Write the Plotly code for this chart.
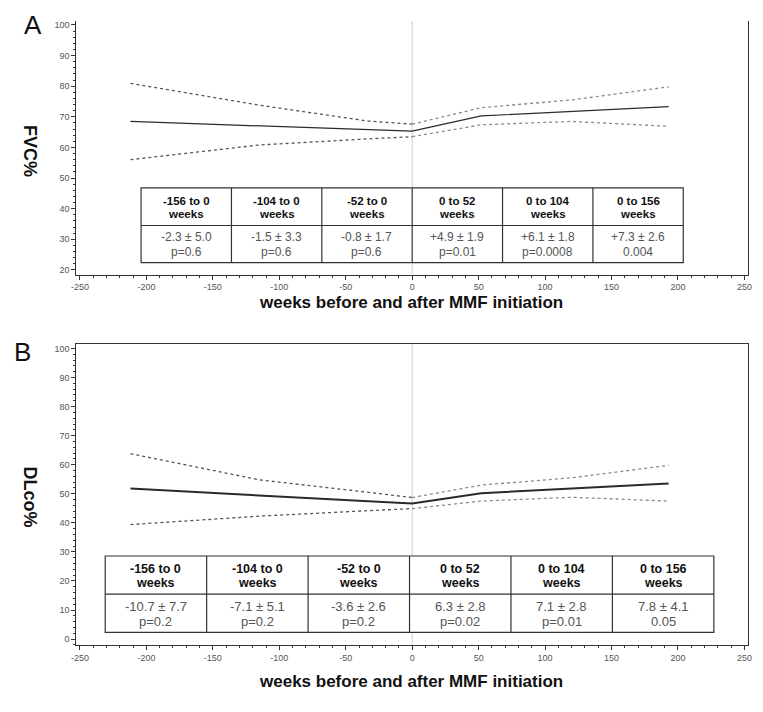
import plotly.graph_objects as go

# weeks before / after MMF initiation
weeks = [-212, -115, -33, 0, 52, 120, 193]

# FVC% (panel A)
fvc_mean = [68.5, 67.1, 65.8, 65.3, 70.3, 71.7, 73.3]
fvc_upper = [80.9, 73.8, 68.6, 67.6, 73.0, 75.5, 79.8]
fvc_lower = [56.0, 60.8, 62.8, 63.5, 67.4, 68.5, 66.9]

# DLco% (panel B)
dlco_mean = [51.8, 49.3, 47.4, 46.7, 50.2, 51.8, 53.5]
dlco_upper = [63.8, 54.8, 50.5, 48.7, 53.0, 55.5, 59.8]
dlco_lower = [39.4, 42.3, 44.2, 44.9, 47.5, 48.8, 47.5]

periods = ["-156 to 0", "-104 to 0", "-52 to 0", "0 to 52", "0 to 104", "0 to 156"]
fvc_change = ["-2.3 ± 5.0", "-1.5 ± 3.3", "-0.8 ± 1.7", "+4.9 ± 1.9", "+6.1 ± 1.8", "+7.3 ± 2.6"]
fvc_p = ["p=0.6", "p=0.6", "p=0.6", "p=0.01", "p=0.0008", "0.004"]
dlco_change = ["-10.7 ± 7.7", "-7.1 ± 5.1", "-3.6 ± 2.6", "6.3 ± 2.8", "7.1 ± 2.8", "7.8 ± 4.1"]
dlco_p = ["p=0.2", "p=0.2", "p=0.2", "p=0.02", "p=0.01", "0.05"]

x_ticks = [-250, -200, -150, -100, -50, 0, 50, 100, 150, 200, 250]

FONT = "Arial, Liberation Sans, sans-serif"

# the page body has an 8px margin, so the figure is drawn 8px in from the window edge
OFF = 8
W = 763 - OFF
H = 712 - OFF


def px_x(p):
    return (p - OFF) / W


def px_y(p):
    return 1 - (p - OFF) / H


fig = go.Figure()

split = weeks.index(0)


def add_panel(fig, mean, upper, lower, xa, ya, mean_w):
    fig.add_trace(go.Scatter(x=weeks, y=mean, mode="lines", xaxis=xa, yaxis=ya,
                             line=dict(color="#2a2a2a", width=mean_w), showlegend=False))
    for band in (upper, lower):
        # left half dashed, right half dotted
        fig.add_trace(go.Scatter(x=weeks[:split + 1], y=band[:split + 1], mode="lines",
                                 xaxis=xa, yaxis=ya, showlegend=False,
                                 line=dict(color="#555555", width=1.3, dash="3px,3px")))
        fig.add_trace(go.Scatter(x=weeks[split:], y=band[split:], mode="lines",
                                 xaxis=xa, yaxis=ya, showlegend=False,
                                 line=dict(color="#8a8a8a", width=1.3, dash="dot")))


add_panel(fig, fvc_mean, fvc_upper, fvc_lower, "x", "y", 1.2)
add_panel(fig, dlco_mean, dlco_upper, dlco_lower, "x2", "y2", 2)


def add_table(fig, xr, yr, x0, x1, y0, ymid, y1, change, pval, hsize, vsize):
    # y0 bottom, y1 top
    fig.add_shape(type="rect", xref=xr, yref=yr, x0=x0, x1=x1, y0=y0, y1=y1,
                  line=dict(color="#333333", width=1.2), fillcolor="white", layer="above")
    fig.add_shape(type="line", xref=xr, yref=yr, x0=x0, x1=x1, y0=ymid, y1=ymid,
                  line=dict(color="#333333", width=1.2), layer="above")
    w = (x1 - x0) / len(periods)
    for i in range(1, len(periods)):
        fig.add_shape(type="line", xref=xr, yref=yr, x0=x0 + i * w, x1=x0 + i * w,
                      y0=y0, y1=y1, line=dict(color="#333333", width=1.2), layer="above")
    h1 = y1 - ymid
    h2 = ymid - y0
    for i, per in enumerate(periods):
        cx = x0 + (i + 0.5) * w
        for txt, yy in ((per, y1 - 0.34 * h1), ("weeks", y1 - 0.70 * h1)):
            fig.add_annotation(x=cx, y=yy, xref=xr, yref=yr, text="<b>" + txt + "</b>",
                               showarrow=False, font=dict(family=FONT, size=hsize, color="#111111"))
        for txt, yy in ((change[i], ymid - 0.32 * h2), (pval[i], ymid - 0.72 * h2)):
            fig.add_annotation(x=cx, y=yy, xref=xr, yref=yr, text=txt,
                               showarrow=False, font=dict(family=FONT, size=vsize, color="#555555"))


add_table(fig, "x", "y", -204, 204, 22.4, 34.5, 46.8, fvc_change, fvc_p, 11.5, 12)
add_table(fig, "x2", "y2", -231, 227, 2.3, 15.5, 28.6, dlco_change, dlco_p, 12.5, 13)

# zero line
for xr, yr in (("x", "y domain"), ("x2", "y2 domain")):
    fig.add_shape(type="line", xref=xr, yref=yr, x0=0, x1=0, y0=0, y1=1,
                  line=dict(color="#cccccc", width=1), layer="below")

ax_common = dict(
    showgrid=False, zeroline=False, showline=True, linecolor="#333333", linewidth=1,
    ticks="outside", ticklen=4, tickcolor="#333333",
    tickfont=dict(family=FONT, size=9, color="#555555"),
)
xdom = [px_x(72), px_x(752)]

fig.update_layout(
    width=W, height=H,
    margin=dict(l=0, r=0, t=0, b=0),
    paper_bgcolor="white", plot_bgcolor="white",
    font=dict(family=FONT),
    xaxis=dict(domain=xdom, range=[-252.8, 252.8], anchor="y",
               tickvals=x_ticks, ticktext=[str(v) for v in x_ticks],
               minor=dict(dtick=10, ticks="outside", ticklen=2, tickcolor="#333333"),
               **ax_common),
    yaxis=dict(domain=[px_y(274), px_y(20)], range=[18.46, 101.3], anchor="x",
               tickvals=list(range(20, 101, 10)), mirror=True,
               minor=dict(dtick=2, ticks="outside", ticklen=2, tickcolor="#333333"),
               **ax_common),
    xaxis2=dict(domain=xdom, range=[-252.8, 252.8], anchor="y2", mirror=True,
                tickvals=x_ticks, ticktext=[str(v) for v in x_ticks],
                minor=dict(dtick=10, ticks="outside", ticklen=2, tickcolor="#333333"),
                **ax_common),
    yaxis2=dict(domain=[px_y(645), px_y(343)], range=[-2.06, 101.7], anchor="x2",
                tickvals=list(range(0, 101, 10)), mirror=True,
                minor=dict(dtick=2, ticks="outside", ticklen=2, tickcolor="#333333"),
                **ax_common),
)

# panel letters, axis titles (positions in window pixels)
labels = [
    ("A", 28, 24, 0, 26, False),
    ("B", 18, 351, 0, 26, False),
    ("FVC%", 25, 150, 90, 18, True),
    ("DLco%", 25, 497, 90, 18, True),
    ("weeks before and after MMF initiation", 411, 302, 0, 17, True),
    ("weeks before and after MMF initiation", 411, 681, 0, 17, True),
]
for txt, px, py, ang, size, bold in labels:
    fig.add_annotation(x=px_x(px), y=px_y(py), xref="paper", yref="paper",
                       text="<b>" + txt + "</b>" if bold else txt, textangle=ang,
                       showarrow=False, xanchor="center", yanchor="middle",
                       font=dict(family=FONT, size=size, color="#111111"))

fig.write_html("out.html")
